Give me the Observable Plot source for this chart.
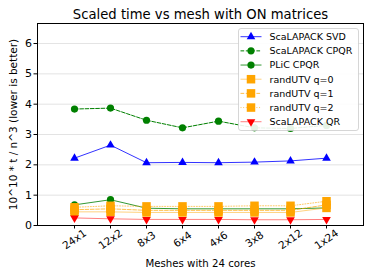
<!DOCTYPE html>
<html><head><meta charset="utf-8">
<script src="https://cdn.jsdelivr.net/npm/d3@7"></script>
<script src="https://cdn.jsdelivr.net/npm/@observablehq/plot@0.6"></script>
<style>body{margin:0;background:#fff}svg{font-family:"DejaVu Sans",sans-serif}</style>
</head><body><div id="chart"></div>
<script>
const meshes = ["24x1","12x2","8x3","6x4","4x6","3x8","2x12","1x24"];
const svdVals  = [2.22, 2.65, 2.07, 2.08, 2.07, 2.09, 2.13, 2.22];
const cpqrVals = [3.84, 3.87, 3.47, 3.22, 3.44, 3.22, 3.20, 3.30];
const plicVals = [0.68, 0.85, 0.57, 0.55, 0.55, 0.55, 0.55, 0.58];
const q0Vals   = [0.45, 0.45, 0.43, 0.43, 0.43, 0.43, 0.43, 0.58];
const q1Vals   = [0.52, 0.55, 0.50, 0.50, 0.50, 0.50, 0.50, 0.68];
const q2Vals   = [0.60, 0.65, 0.63, 0.63, 0.63, 0.65, 0.65, 0.80];
const qrVals   = [0.25, 0.22, 0.20, 0.20, 0.20, 0.19, 0.19, 0.20];
const seriesNames = ["ScaLAPACK SVD","ScaLAPACK CPQR","PLiC CPQR","randUTV q=0","randUTV q=1","randUTV q=2","ScaLAPACK QR"];
const yTicks = [0,1,2,3,4,5,6];

const styles = [
  {vals: svdVals,  color:"blue",   dash:null,    symbol:"triangle", r:3.2, rot:0},
  {vals: cpqrVals, color:"green",  dash:"3.7,1.6", symbol:"circle", r:3.6, rot:0},
  {vals: plicVals, color:"green",  dash:null,    symbol:"circle",   r:3.6, rot:0},
  {vals: q0Vals,   color:"orange", dash:null,    symbol:"square",   r:4.8, rot:0},
  {vals: q1Vals,   color:"orange", dash:"3.7,1.6", symbol:"square", r:4.8, rot:0},
  {vals: q2Vals,   color:"orange", dash:"1,1.65", symbol:"square",  r:4.8, rot:0},
  {vals: qrVals,   color:"red",    dash:null,    symbol:"triangle", r:3.2, rot:180},
];
const lineOpacity = [0.8, 1, 0.8, 0.5, 0.7, 0.6, 0.5];

const marks = [
  Plot.gridY(yTicks, {stroke:"#b0b0b0", strokeOpacity:0.45, strokeWidth:0.8}),
];
styles.forEach((s, i) => {
  const data = meshes.map((m, j) => ({mesh:m, v:s.vals[j]}));
  marks.push(Plot.line(data, {x:"mesh", y:"v", stroke:s.color, strokeWidth:1, strokeOpacity:lineOpacity[i], strokeDasharray:s.dash}));
  marks.push(Plot.dot(data, {x:"mesh", y:"v", fill:s.color, stroke:"none", symbol:s.symbol, r:s.r, rotate:s.rot}));
});
marks.push(
  Plot.frame({stroke:"black", strokeWidth:1}),
  Plot.axisY(yTicks, {tickSize:3.5, tickPadding:2, fontSize:11, label:null, tickFormat:d=>d}),
  Plot.axisX(meshes, {tickSize:3.5, tickFormat:()=>"", label:null}),
  Plot.text(meshes, {x:d=>d, frameAnchor:"bottom", dy:14, rotate:-35, textAnchor:"middle", lineAnchor:"middle", fontSize:10.5, fill:"black"}),
  Plot.text(["Meshes with 24 cores"], {frameAnchor:"bottom", dy:38, fontSize:10.2, fill:"black", textAnchor:"middle", lineAnchor:"middle"}),
  Plot.text(["10^10 * t / n^3 (lower is better)"], {frameAnchor:"left", dx:-24, rotate:-90, fontSize:10.5, fill:"black", textAnchor:"middle", lineAnchor:"middle"}),
  Plot.text(["Scaled time vs mesh with ON matrices"], {frameAnchor:"top", dy:-9, fontSize:13.2, fill:"black", textAnchor:"middle", lineAnchor:"middle"})
);

const chart = Plot.plot({
  width:374, height:280,
  marginLeft:37, marginRight:11, marginTop:23, marginBottom:55,
  x:{type:"point", domain:meshes, padding:1, axis:null},
  y:{domain:[0,6.66], axis:null},
  style:{fontFamily:"DejaVu Sans, sans-serif", background:"white", overflow:"visible"},
  marks
});
document.getElementById("chart").append(chart);

// legend inside plot area (top right)
const svg = d3.select(chart);
const lg = svg.append("g").attr("transform","translate(238.5,28.5)");
lg.append("rect").attr("width",120).attr("height",102).attr("rx",2.5)
  .attr("fill","white").attr("fill-opacity",0.9).attr("stroke","#cccccc").attr("stroke-width",0.8);
const sym = {triangle:d3.symbolTriangle, circle:d3.symbolCircle, square:d3.symbolSquare};
seriesNames.forEach((name, i) => {
  const s = styles[i];
  const yy = 8.2 + i*14.17;
  const row = lg.append("g").attr("transform",`translate(0,${yy})`);
  row.append("line").attr("x1",2).attr("x2",23).attr("y1",0).attr("y2",0)
    .attr("stroke",s.color).attr("stroke-opacity",lineOpacity[i]).attr("stroke-width",1)
    .attr("stroke-dasharray",s.dash);
  row.append("path").attr("d",d3.symbol(sym[s.symbol], Math.PI*s.r*s.r)())
    .attr("transform",`translate(12.5,0) rotate(${s.rot})`).attr("fill",s.color);
  row.append("text").attr("x",31).attr("y",0).attr("dy","0.35em").attr("text-anchor","start")
    .attr("font-size",9.5).attr("fill","black").text(name);
});
</script></body></html>
